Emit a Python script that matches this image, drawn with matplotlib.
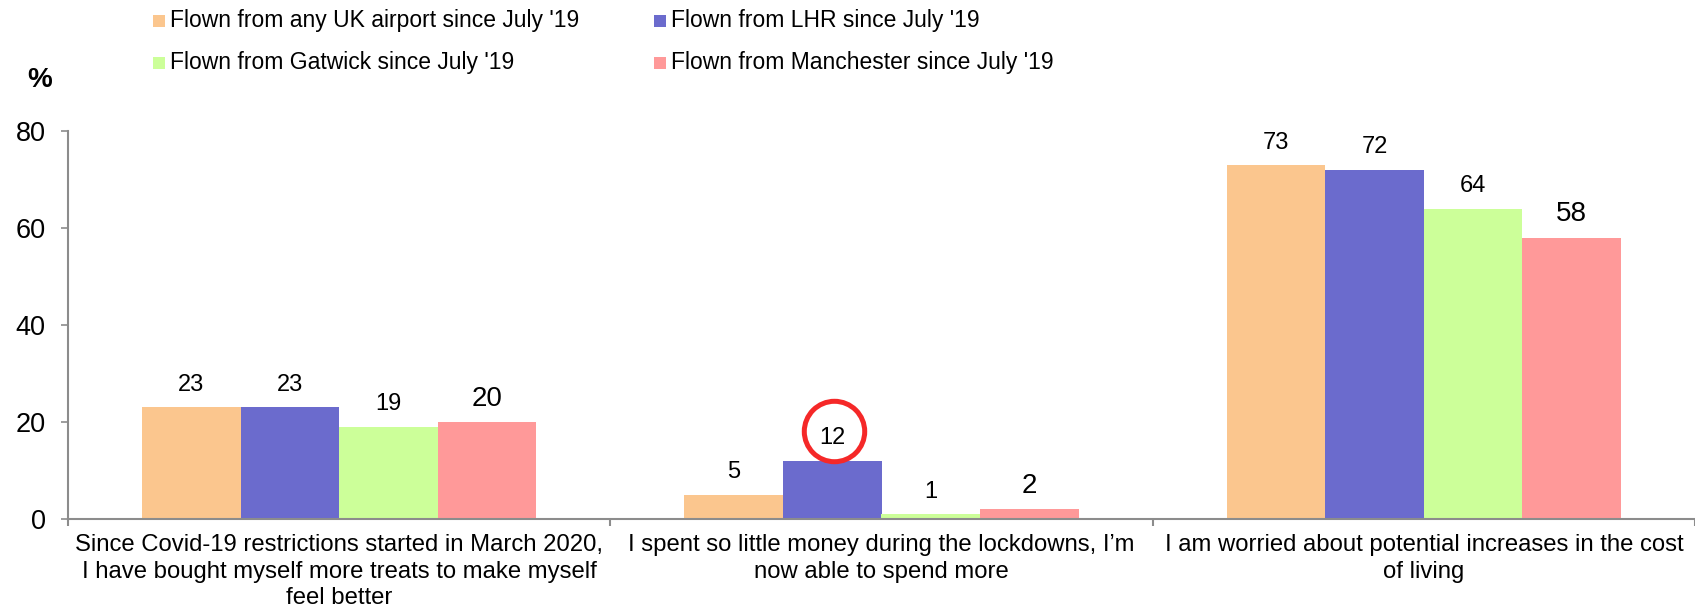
import matplotlib
matplotlib.use("Agg")
import matplotlib.pyplot as plt
import numpy as np
from matplotlib.patches import Rectangle
from matplotlib.transforms import offset_copy

plt.rcParams['font.family'] = ['Liberation Sans', 'DejaVu Sans']

categories = [
    "Since Covid-19 restrictions started in March 2020,\nI have bought myself more treats to make myself\nfeel better",
    "I spent so little money during the lockdowns, I\u2019m\nnow able to spend more",
    "I am worried about potential increases in the cost\nof living",
]
series_names = [
    "Flown from any UK airport since July '19",
    "Flown from LHR since July '19",
    "Flown from Gatwick since July '19",
    "Flown from Manchester since July '19",
]
any_uk = [23, 5, 73]
lhr = [23, 12, 72]
gatwick = [19, 1, 64]
manchester = [20, 2, 58]
yticks = [0, 20, 40, 60, 80]
highlight = (1, 1)  # (category index, series index) circled

values = [any_uk, lhr, gatwick, manchester]
colors = ["#FBC68E", "#6B6BCD", "#CCFF99", "#FF9999"]
label_sizes = [17, 17, 17, 20]

W, H = 1695, 613
fig = plt.figure(figsize=(W / 100, H / 100), dpi=100)
ax = fig.add_axes([68 / W, (H - 519) / H, 1 - 68 / W, (519 - 131) / H])

x = np.arange(len(categories))
bw = 0.1817
n = len(values)
for i, (vals, c) in enumerate(zip(values, colors)):
    xs = x + (i - (n - 1) / 2) * bw
    ax.bar(xs, vals, width=bw, color=c, edgecolor='none', zorder=2)
    for xi, v in zip(xs, vals):
        ax.annotate(str(v), (xi, v), xytext=(0, 11.8), textcoords='offset points',
                    ha='center', va='baseline', fontsize=label_sizes[i], color='black')

# highlight circle
ci, si = highlight
hx = x[ci] + (si - (n - 1) / 2) * bw
hv = values[si][ci]
tr = offset_copy(ax.transData, fig=fig, x=1.5, y=21.6, units='points')
ax.plot([hx], [hv], marker='o', markersize=43.5, markerfacecolor='none',
        markeredgecolor='#F52828', markeredgewidth=3.6, transform=tr,
        clip_on=False, zorder=5)

ax.set_xlim(-0.5, len(categories) - 0.5)
ax.set_ylim(0, 80)
ax.set_yticks(yticks)
ax.set_yticklabels([str(t) for t in yticks], fontsize=19.5)
ax.tick_params(axis='y', direction='out', length=5, width=1.2, color='#8C8C8C', pad=11)

ax.set_xticks(x)
ax.set_xticklabels(categories, fontsize=17.2, linespacing=1.26)
ax.tick_params(axis='x', which='major', length=0, pad=11)
ax.set_xticks(np.arange(len(categories) + 1) - 0.5, minor=True)
ax.tick_params(axis='x', which='minor', direction='out', length=5, width=1.5, color='#8C8C8C')

for s in ['top', 'right']:
    ax.spines[s].set_visible(False)
for s in ['left', 'bottom']:
    ax.spines[s].set_color('#8C8C8C')
    ax.spines[s].set_linewidth(1.5)
ax.spines['bottom'].set_zorder(3)

# legend (manual, 2 columns)
col_x = [153, 654]
row_y = [21, 63]
for i, (name, c) in enumerate(zip(series_names, colors)):
    r, col = divmod(i, 2)
    mx, my = col_x[col], row_y[r]
    fig.patches.append(Rectangle((mx / W, 1 - (my + 6) / H), 12 / W, 12 / H,
                                 transform=fig.transFigure, facecolor=c,
                                 edgecolor='none', figure=fig))
    fig.text((mx + 17) / W, 1 - my / H, name, fontsize=16.5, va='center', ha='left')

fig.text(40 / W, 1 - 80 / H, "%", fontsize=20, fontweight='bold', ha='center', va='center')

fig.savefig("out.png", dpi=100)
